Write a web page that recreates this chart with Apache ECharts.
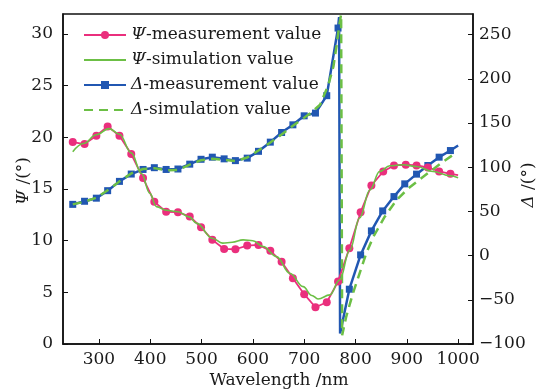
<!DOCTYPE html>
<html><head><meta charset="utf-8">
<script src="https://cdn.jsdelivr.net/npm/echarts@6/dist/echarts.min.js"></script>
<style>html,body{margin:0;padding:0;background:#fff}#c{width:540px;height:389px}</style>
</head><body><div id="c"></div>
<script>
// Ψ measurement (left axis)
const psiMeasWl = [249,272,295,317,340,363,386,408,431,454,477,499,521,544,566,589,611,634,656,678,700,722,744,766,788,810,831,854,875,898,919,941,963,985,1000];
const psiMeas   = [19.55,19.35,20.16,21.06,20.16,18.38,16.06,13.76,12.8,12.76,12.34,11.3,10.08,9.2,9.17,9.53,9.59,9.03,7.95,6.37,4.82,3.56,4.04,6.04,9.27,12.76,15.34,16.7,17.28,17.35,17.28,17.09,16.7,16.47,16.35];
// Ψ simulation (left axis)
const psiSimWl = [249,270,295,320,340,363,383,399,412,431,454,476,490,521,541,560,581,600,620,646,672,698,715,727,750,769,789,808,828,847,867,893,919,951,984,1000];
const psiSim   = [18.6,19.4,20.25,20.85,20.3,18.5,16.5,14.6,13.3,12.95,12.8,12.3,11.7,10.24,9.76,9.85,10.08,10.0,9.43,8.46,6.85,5.55,4.7,4.36,4.75,6.2,9.1,12.2,14.9,16.7,17.25,17.35,17.18,16.7,16.28,16.1];
// Δ measurement (right axis)
const deltaMeasWl = [249,272,295,317,340,363,386,408,431,454,477,499,521,544,566,589,611,634,656,678,700,722,744,766,768,770,788,810,831,853,875,896,919,941,963,985,1000];
const deltaMeas   = [58,61.5,65,73.5,84,92.3,97.5,99.5,97.5,98,103.5,109,111.4,109.5,107.5,110.3,118,128.4,139.3,148,158.2,161.3,181,257.5,270,-88,-38,0.8,28,50.6,66.8,81.2,92.2,102,111.4,118.9,124.6];
const deltaMeasNoMarker = [768,770,1000];
// Δ simulation (right axis)
const deltaSimWl = [249,272,295,320,340,363,386,408,431,454,477,499,521,544,566,589,611,634,656,678,700,712,731,747,757,763,769,772,774,782,795,808,821,835,857,880,903,925,945,967,990];
const deltaSim   = [58,61,65.5,75,84,93,98,99,96.5,97,103,108,109.5,108.5,107,111,119,128,137,147,156,161,170.7,193,214,237,263,273,-90,-69,-42.6,-20,2.7,21.5,44,63,76,86,95,104.6,114];

const xTicks = [300,400,500,600,700,800,900,1000];
const psiTicks = [0,5,10,15,20,25,30];
const deltaTicks = [-100,-50,0,50,100,150,200,250];
const names = ['Ψ-measurement value','Ψ-simulation value','Δ-measurement value','Δ-simulation value'];

const FONT = 'DejaVu Serif';
const TXT = '#1a1a1a';
const PINK = '#ea2f7d', GREEN = '#6cbf45', BLUE = '#2157b2';
const zip = (a,b) => a.map((v,i)=>[v,b[i]]);
const fmt = v => String(v).replace('-', '\u2212');

const chart = echarts.init(document.getElementById('c'), null, {renderer:'canvas'});
const axisCommon = {
  axisLine:{show:true, onZero:false, lineStyle:{color:'#111', width:1.5}},
  splitLine:{show:false},
  nameMoveOverlap:false,
  nameTextStyle:{fontFamily:FONT, fontSize:17, color:TXT, rich:{i:{fontFamily:FONT, fontSize:17, fontStyle:'italic', color:TXT}}}
};
chart.setOption({
  animation:false,
  backgroundColor:'#fff',
  grid:{left:63, right:67, top:14, bottom:45, outerBoundsMode:'none', containLabel:false, show:true, borderColor:'#111', borderWidth:1.5, backgroundColor:'transparent'},
  legend:{
    orient:'vertical', left:78, top:20, itemWidth:42, itemHeight:10, itemGap:5,
    data:[
      {name:names[0]},
      {name:names[1], itemStyle:{opacity:0}},
      {name:names[2]},
      {name:names[3], itemStyle:{opacity:0}}
    ],
    textStyle:{fontFamily:FONT, fontSize:17, color:TXT, lineHeight:20, rich:{i:{fontFamily:FONT, fontSize:17, fontStyle:'italic', color:TXT}}},
    formatter: n => '{i|' + n[0] + '}' + n.slice(1)
  },
  xAxis:Object.assign({}, axisCommon, {
    type:'value', min:230, max:1029,
    name:'Wavelength /nm', nameLocation:'middle', nameGap:28,
    nameTextStyle:Object.assign({}, axisCommon.nameTextStyle, {padding:[0,0,0,22]}),
    axisTick:{show:true, inside:true, length:5, customValues:xTicks, lineStyle:{color:'#111'}},
    axisLabel:{customValues:xTicks, formatter:fmt, fontFamily:FONT, fontSize:17, color:TXT, margin:7}
  }),
  yAxis:[
    Object.assign({}, axisCommon, {
      type:'value', min:0, max:31.94, position:'left',
      name:'{i|Ψ} /(°)', nameLocation:'middle', nameGap:31, nameRotate:90,
      nameTextStyle:Object.assign({}, axisCommon.nameTextStyle, {padding:[0,4,0,0]}),
      axisTick:{show:true, inside:true, length:5, customValues:psiTicks, lineStyle:{color:'#111'}},
      axisLabel:{customValues:psiTicks, formatter:fmt, fontFamily:FONT, fontSize:17, color:TXT, margin:10}
    }),
    Object.assign({}, axisCommon, {
      type:'value', min:-100, max:273.4, position:'right',
      name:'{i|Δ} /(°)', nameLocation:'middle', nameGap:47, nameRotate:90,
      nameTextStyle:Object.assign({}, axisCommon.nameTextStyle, {padding:[0,12,0,0]}),
      axisTick:{show:true, inside:true, length:5, customValues:deltaTicks, lineStyle:{color:'#111'}},
      axisLabel:{customValues:deltaTicks, formatter:fmt, fontFamily:FONT, fontSize:17, color:TXT, margin:6}
    })
  ],
  series:[
    {name:names[0], type:'line', yAxisIndex:0, data:zip(psiMeasWl, psiMeas).map(p => p[0]===1000 ? {value:p, symbol:'none'} : p),
     symbol:'circle', symbolSize:8, lineStyle:{color:PINK, width:1.8}, itemStyle:{color:PINK}, z:3},
    {name:names[1], type:'line', yAxisIndex:0, data:zip(psiSimWl, psiSim), smooth:0.4, smoothMonotone:'x',
     showSymbol:false, symbol:'none', lineStyle:{color:GREEN, width:1.6}, itemStyle:{color:GREEN}, z:4},
    {name:names[2], type:'line', yAxisIndex:1, data:zip(deltaMeasWl, deltaMeas).map(p => deltaMeasNoMarker.includes(p[0]) ? {value:p, symbol:'none'} : p),
     symbol:'rect', symbolSize:7, lineStyle:{color:BLUE, width:2.5}, itemStyle:{color:BLUE}, z:2},
    {name:names[3], type:'line', yAxisIndex:1, data:zip(deltaSimWl, deltaSim),
     showSymbol:false, symbol:'none', lineStyle:{color:GREEN, width:2.5, type:[9,6]}, itemStyle:{color:GREEN}, z:3}
  ]
});
</script></body></html>
